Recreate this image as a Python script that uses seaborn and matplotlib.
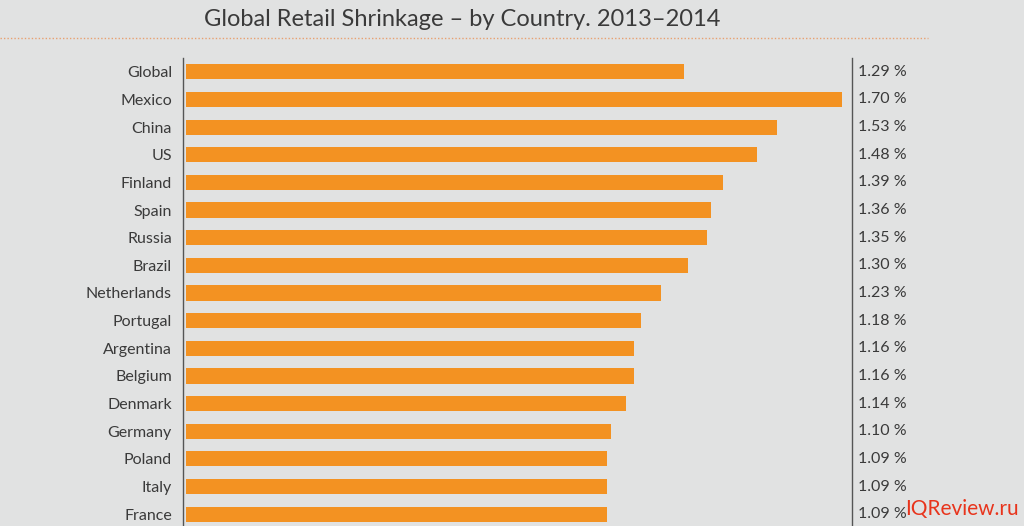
import matplotlib
matplotlib.use("Agg")
import matplotlib.pyplot as plt
import matplotlib.transforms as mtransforms
import seaborn as sns
import pandas as pd

countries = ["Global", "Mexico", "China", "US", "Finland", "Spain", "Russia", "Brazil",
             "Netherlands", "Portugal", "Argentina", "Belgium", "Denmark", "Germany",
             "Poland", "Italy", "France"]
shrinkage = [1.29, 1.70, 1.53, 1.48, 1.39, 1.36, 1.35, 1.30,
             1.23, 1.18, 1.16, 1.16, 1.14, 1.10, 1.09, 1.09, 1.09]
title = "Global Retail Shrinkage \u2013 by Country. 2013\u20132014"

bg = "#e1e2e2"
bar_color = "#f39222"
text_color = "#3a3a3a"

sns.set_theme(style="white")
plt.rcParams['font.family'] = ['Lato', 'DejaVu Sans']

df = pd.DataFrame({"country": countries, "value": shrinkage})

fig = plt.figure(figsize=(10.24, 5.26), dpi=100, facecolor=bg)
ax = fig.add_axes([183 / 1024, -2 / 526, (852 - 183) / 1024, (527 - 57) / 526])
ax.set_facecolor(bg)

sns.barplot(data=df, x="value", y="country", orient="h", color=bar_color,
            width=0.55, saturation=1, linewidth=0, ax=ax)

ax.set_xlim(-0.0065, 1.725)
ax.set_ylim(len(countries) - 0.5, -0.5)
ax.set_xlabel("")
ax.set_ylabel("")
ax.set_xticks([])
ax.tick_params(axis="y", length=0, pad=8, labelsize=11.5, labelcolor=text_color)

for side in ["top", "bottom"]:
    ax.spines[side].set_visible(False)
for side in ["left", "right"]:
    ax.spines[side].set_visible(True)
    ax.spines[side].set_color("#555555")
    ax.spines[side].set_linewidth(1.0)

# value labels to the right of the frame
trans = mtransforms.blended_transform_factory(ax.transAxes, ax.transData)
for i, v in enumerate(shrinkage):
    ax.text(1.009, i, f"{v:.2f} %", transform=trans, ha="left", va="center",
            fontsize=11.5, color=text_color)

fig.text(462 / 1024, 1 - 19 / 526, title, ha="center", va="center",
         fontsize=17, color=text_color)
fig.add_artist(plt.Line2D([0, 928 / 1024], [1 - 38 / 526, 1 - 38 / 526],
                          transform=fig.transFigure, color="#e8a070",
                          linestyle=(0, (1, 1.5)), linewidth=1.0))

fig.text(1019 / 1024, 1 - 509 / 526, "IQReview.ru", ha="right", va="center",
         fontsize=15, color="#e8341c")

fig.savefig("out.png", dpi=100, facecolor=bg)
